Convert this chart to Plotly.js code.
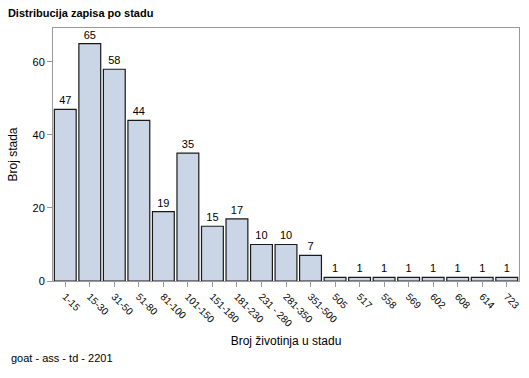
<!DOCTYPE html>
<html><head><meta charset="utf-8">
<script src="https://cdn.plot.ly/plotly-3.0.1.min.js"></script>
<style>body{margin:0;padding:0;background:#fff}#c{width:529px;height:378px}</style>
</head><body><div id="c"></div>
<script>
const categories = ["1-15","15-30","31-50","51-80","81-100","101-150","151-180","181-230","231 - 280","281-350","351-500","505","517","558","569","602","608","614","723"];
const counts = [47,65,58,44,19,35,15,17,10,10,7,1,1,1,1,1,1,1,1];
const yTicks = [0,20,40,60];

const trace = {
  type: 'bar', x: categories, y: counts,
  text: counts.map(String), textposition: 'outside', cliponaxis: false,
  textfont: {family: 'Arial, Liberation Sans, sans-serif', size: 11, color: '#000'},
  marker: {color: '#CAD5E5', line: {color: '#1a1a1a', width: 1.2}},
  hoverinfo: 'none'
};
const layout = {
  width: 529, height: 378,
  margin: {l: 53, r: 10, t: 28, b: 97},
  paper_bgcolor: '#fff', plot_bgcolor: '#fff',
  bargap: 0.11,
  showlegend: false,
  font: {family: 'Arial, Liberation Sans, sans-serif', size: 11, color: '#000'},
  title: {text: '<b>Distribucija zapisa po stadu</b>', x: 0.015, xanchor: 'left', y: 0.975, yanchor: 'top',
          font: {size: 11, family: 'Arial, Liberation Sans, sans-serif', color: '#000'}},
  xaxis: {
    type: 'category', tickangle: 45, ticks: 'outside', ticklen: 5, tickcolor: '#999',
    tickfont: {size: 10}, showline: true, linecolor: '#999', mirror: true, showgrid: false,
    title: {text: 'Broj životinja u stadu', standoff: 8, font: {size: 12}}
  },
  yaxis: {
    range: [0, 69.3], tickvals: yTicks, ticks: 'outside', ticklen: 5, tickcolor: '#999',
    tickfont: {size: 11}, showline: true, linecolor: '#999', mirror: true, showgrid: false, zeroline: false,
    title: {text: 'Broj stada', standoff: 12, font: {size: 12}}
  },
  annotations: [{text: 'goat - ass - td - 2201', xref: 'paper', yref: 'paper', x: -0.094, y: -0.304,
    xanchor: 'left', yanchor: 'middle', showarrow: false, font: {size: 11}}]
};
Plotly.newPlot('c', [trace], layout, {staticPlot: true, displayModeBar: false});
</script></body></html>
